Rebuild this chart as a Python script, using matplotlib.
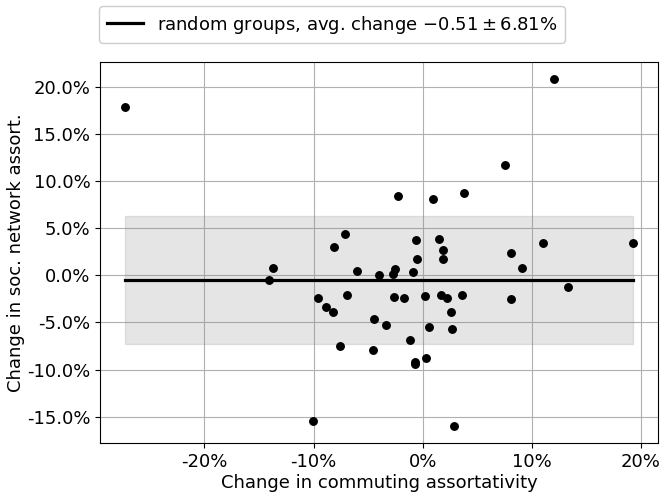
import matplotlib
matplotlib.use("Agg")
import matplotlib.pyplot as plt
from matplotlib.ticker import FuncFormatter
import numpy as np

# Change in commuting assortativity (%)
x_commute = [-27.25, -13.76, -14.13, -7.16, -8.17, -6.06, -3.97, -9.63, -6.97, -8.90,
             -8.26, -4.49, -7.61, -4.59, -10.09, 12.02, 7.52, -2.29, 0.92, 3.76,
             -0.64, 1.47, 1.83, 1.83, -0.55, 11.01, 19.27, 8.07, 9.08, 13.30,
             8.07, -2.57, -2.75, -0.92, -2.66, -1.74, 0.18, 1.65, 2.20, 3.58,
             2.57, -3.39, 0.55, 2.66, -1.19, -0.73, -0.73, 0.31, 2.84]
# Change in social network assortativity (%)
y_social = [17.84, 0.82, -0.46, 4.44, 3.05, 0.50, 0.00, -2.37, -2.05, -3.33,
            -3.86, -4.61, -7.48, -7.90, -15.46, 20.82, 11.67, 8.48, 8.16, 8.80,
            3.80, 3.90, 2.73, 1.78, 1.78, 3.48, 3.48, 2.41, 0.82, -1.20,
            -2.48, 0.64, 0.18, 0.32, -2.27, -2.37, -2.16, -2.05, -2.37, -2.05,
            -3.86, -5.25, -5.46, -5.67, -6.84, -9.18, -9.39, -8.76, -15.99]

random_mean = -0.51
random_std = 6.81

fig = plt.figure(figsize=(6.68, 4.97), dpi=100)
ax = fig.add_axes([0.1497, 0.108, 0.8358, 0.7673])

xmin, xmax = min(x_commute), max(x_commute)
ax.fill_between([xmin, xmax], random_mean - random_std, random_mean + random_std,
                color="gray", alpha=0.2, zorder=1)
ax.plot([xmin, xmax], [random_mean, random_mean], color="black", lw=2.3, zorder=3,
        label=r"random groups, avg. change $-0.51\pm6.81$%")
ax.scatter(x_commute, y_social, color="black", s=29, zorder=4)

ax.grid(True, color="#b0b0b0", lw=0.8, zorder=0)
ax.set_axisbelow(True)

ax.set_xticks([-20, -10, 0, 10, 20])
ax.set_yticks([-15, -10, -5, 0, 5, 10, 15, 20])
ax.xaxis.set_major_formatter(FuncFormatter(lambda v, p: "%d%%" % round(v)))
ax.yaxis.set_major_formatter(FuncFormatter(lambda v, p: "%.1f%%" % v))
ax.tick_params(labelsize=13)
ax.set_xlabel("Change in commuting assortativity", fontsize=13, labelpad=2)
ax.set_ylabel("Change in soc. network assort.", fontsize=13, labelpad=1)

ax.legend(loc="lower left", bbox_to_anchor=(-0.001, 1.05), fontsize=13,
          borderaxespad=0, handlelength=2.0, framealpha=1)

fig.savefig("out.png", dpi=100)
